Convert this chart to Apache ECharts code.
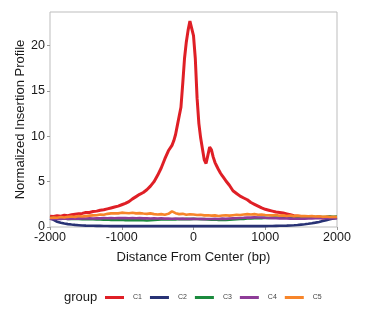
<!DOCTYPE html>
<html><head><meta charset="utf-8">
<script src="https://cdn.jsdelivr.net/npm/echarts@6/dist/echarts.min.js"></script>
<style>html,body{margin:0;padding:0;background:#fff;}#c{width:367px;height:328px;}</style>
</head><body><div id="c"></div>
<script>
var groups = ['C1','C2','C3','C4','C5'];
var colors = ['#DF1F26','#283275','#1B8A3D','#8E3C98','#F7852A'];
var xTicks = [-2000,-1000,0,1000,2000];
var yTicks = [0,5,10,15,20];

var xs = [-2000,-1950,-1900,-1850,-1800,-1750,-1700,-1650,-1600,-1550,-1500,-1450,-1400,-1350,-1300,-1250,-1200,-1150,-1100,-1050,
-1000,-950,-900,-850,-800,-750,-700,-650,-600,-550,-500,-450,-400,-350,-300,-250,-200,-150,-100,-50,
0,50,100,150,200,250,300,350,400,450,500,550,600,650,700,750,800,850,900,950,
1000,1050,1100,1150,1200,1250,1300,1350,1400,1450,1500,1550,1600,1650,1700,1750,1800,1850,1900,1950,2000];

var c1X = [-2000,-1950,-1900,-1850,-1800,-1750,-1700,-1650,-1600,-1550,-1500,-1450,-1400,-1350,-1300,-1250,-1200,-1150,-1100,-1050,
-1000,-950,-900,-850,-800,-750,-700,-650,-600,-550,-500,-450,-400,-350,
-300,-275,-250,-225,-200,-175,-150,-125,-100,-75,-50,-25,0,25,50,75,100,125,150,175,200,225,250,275,300,325,350,375,400,
450,500,550,600,650,700,750,800,850,900,950,1000,1050,1100,1150,1200,1250,1300,1350,1400,1450,1500,1550,1600,1650,1700,1750,1800,1850,1900,1950,2000];
var c1Y = [1.2,1.15,1.25,1.2,1.3,1.25,1.35,1.4,1.45,1.5,1.6,1.6,1.7,1.75,1.85,1.9,2.0,2.1,2.2,2.3,
2.45,2.6,2.8,3.1,3.35,3.6,3.8,4.1,4.5,5.0,5.7,6.5,7.5,8.4,
9.0,9.5,10.2,11.2,12.2,13.2,15.8,18.6,20.4,21.7,22.7,21.9,21.1,18.6,14.2,11.4,9.8,8.6,7.4,7.0,7.9,8.8,8.5,7.7,7.1,6.7,6.3,5.95,5.65,
5.1,4.6,4.0,3.7,3.4,3.2,3.0,2.7,2.5,2.3,2.1,1.95,1.85,1.75,1.65,1.6,1.55,1.45,1.35,1.25,1.2,1.15,1.1,1.05,1.1,1.05,1.1,1.0,1.05,1.1,1.0,1.05];

var c2Y = [0.95,0.78,0.58,0.46,0.38,0.32,0.27,0.23,0.2,0.17,0.15,0.14,0.13,0.12,0.12,0.11,0.11,0.1,0.1,0.1,
0.1,0.1,0.1,0.1,0.1,0.1,0.1,0.1,0.1,0.1,0.1,0.1,0.1,0.1,0.1,0.1,0.1,0.1,0.1,0.1,
0.1,0.1,0.1,0.1,0.1,0.1,0.1,0.1,0.1,0.1,0.1,0.1,0.1,0.1,0.1,0.1,0.1,0.1,0.1,0.1,
0.1,0.11,0.11,0.12,0.13,0.14,0.15,0.17,0.19,0.22,0.26,0.3,0.35,0.41,0.48,0.56,0.65,0.75,0.85,0.93,1.0];

var c3Y = [1.0,0.98,0.95,0.93,0.95,0.9,0.92,0.88,0.9,0.87,0.85,0.88,0.85,0.82,0.84,0.8,0.82,0.78,0.8,0.77,
0.8,0.76,0.78,0.75,0.77,0.74,0.76,0.72,0.75,0.78,0.8,0.82,0.85,0.83,0.86,0.84,0.88,0.86,0.9,0.87,
0.9,0.88,0.85,0.87,0.83,0.8,0.82,0.78,0.8,0.77,0.8,0.82,0.85,0.88,0.9,0.93,0.95,0.98,1.0,0.98,
1.02,1.0,1.03,1.05,1.02,1.05,1.08,1.05,1.1,1.07,1.1,1.12,1.08,1.12,1.1,1.13,1.1,1.12,1.15,1.12,1.15];

var c4Y = [0.9,0.88,0.92,0.9,0.93,0.9,0.92,0.95,0.92,0.95,0.93,0.96,0.94,0.97,0.95,0.98,0.96,0.99,0.97,1.0,
0.98,1.0,0.97,0.99,0.96,0.98,0.95,0.97,0.94,0.96,0.93,0.95,0.92,0.94,0.91,0.93,0.9,0.92,0.89,0.91,
0.9,0.88,0.9,0.87,0.89,0.88,0.9,0.89,0.92,0.9,0.93,0.95,0.97,1.0,1.02,1.05,1.03,1.06,1.04,1.05,
1.02,1.0,0.98,0.96,0.95,0.93,0.95,0.92,0.94,0.91,0.93,0.92,0.94,0.95,0.97,0.96,0.98,1.0,0.98,1.0,0.98];

var c5Y = [1.0,1.05,1.02,1.1,1.05,1.12,1.15,1.1,1.2,1.15,1.2,1.25,1.28,1.3,1.38,1.35,1.45,1.5,1.52,1.5,
1.58,1.55,1.52,1.58,1.5,1.53,1.48,1.45,1.5,1.42,1.38,1.42,1.35,1.45,1.72,1.52,1.42,1.45,1.35,1.4,
1.38,1.32,1.35,1.28,1.3,1.25,1.28,1.22,1.27,1.3,1.25,1.3,1.35,1.32,1.38,1.42,1.38,1.42,1.35,1.38,
1.32,1.3,1.28,1.32,1.25,1.28,1.22,1.26,1.2,1.25,1.2,1.22,1.18,1.2,1.15,1.18,1.12,1.15,1.1,1.13,1.1];

function pairs(x, y){ return x.map(function(v,i){ return [v, y[i]]; }); }
var seriesData = [pairs(c1X,c1Y), pairs(xs,c2Y), pairs(xs,c3Y), pairs(xs,c4Y), pairs(xs,c5Y)];

var FONT = 'Liberation Sans';
var chart = echarts.init(document.getElementById('c'), null, {renderer:'canvas'});
chart.setOption({
  animation:false,
  backgroundColor:'#fff',
  textStyle:{fontFamily:FONT},
  grid:{left:50,right:30,top:12,bottom:101,show:true,borderColor:'#BDBDBD',borderWidth:1,backgroundColor:'transparent'},
  xAxis:{type:'value',min:-2000,max:2000,interval:1000,
    name:'Distance From Center (bp)',nameLocation:'middle',nameGap:24,nameMoveOverlap:false,
    nameTextStyle:{fontFamily:FONT,fontSize:13,color:'#1a1a1a'},
    axisLine:{show:false,onZero:false},splitLine:{show:false},
    axisTick:{show:true,length:3,lineStyle:{color:'#999'},customValues:xTicks},
    axisLabel:{fontFamily:FONT,fontSize:12.5,color:'#1a1a1a',margin:4,customValues:xTicks,
      formatter:function(v){return String(v);}}},
  yAxis:{type:'value',min:0,max:23.7,interval:5,
    name:'Normalized Insertion Profile',nameLocation:'middle',nameGap:23,nameMoveOverlap:false,
    nameTextStyle:{fontFamily:FONT,fontSize:13,color:'#1a1a1a'},
    axisLine:{show:false,onZero:false},splitLine:{show:false},
    axisTick:{show:true,length:3,lineStyle:{color:'#999'},customValues:yTicks},
    axisLabel:{fontFamily:FONT,fontSize:12.5,color:'#1a1a1a',margin:5,customValues:yTicks,
      formatter:function(v){return String(v);}}},
  legend:{data:groups,left:100,top:289,icon:'rect',itemWidth:19,itemHeight:3,itemGap:8,
    textStyle:{fontFamily:FONT,fontSize:7,color:'#444',padding:[0,0,0,4]}},
  graphic:[{type:'text',left:64,top:291,style:{text:'group',fontFamily:FONT,fontSize:13,fill:'#1a1a1a'}}],
  series: groups.map(function(g,i){
    return {name:g,type:'line',data:seriesData[i],showSymbol:false,symbol:'none',
      lineStyle:{width:i===0?3:2.6,color:colors[i]},itemStyle:{color:colors[i]},z:2+i};
  })
});
</script>
</body></html>
